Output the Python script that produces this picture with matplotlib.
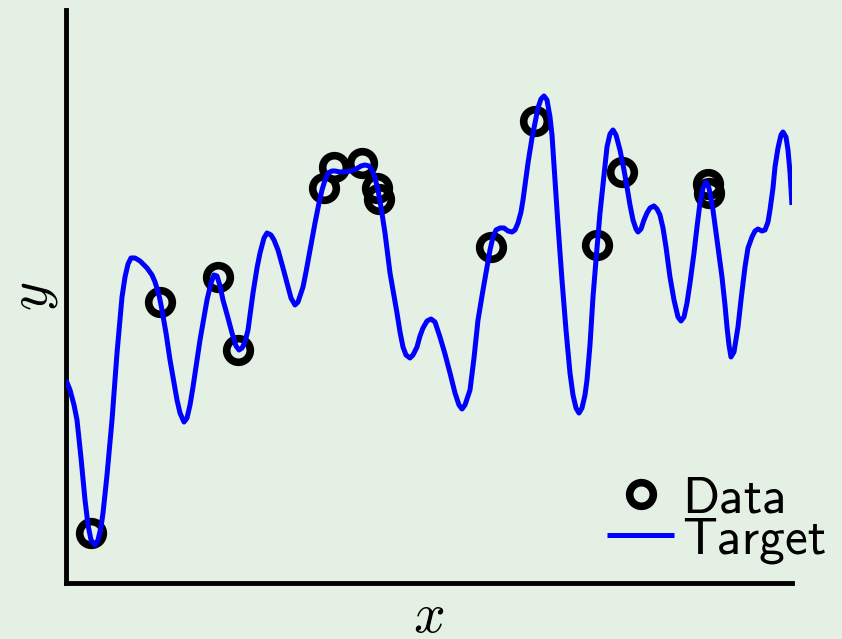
import matplotlib

matplotlib.use("Agg")
import matplotlib.pyplot as plt

plt.rcParams["mathtext.fontset"] = "cm"

# Target curve (x, y) samples
target_x = [
    0, 4, 8, 11, 15, 19, 22, 25, 29, 32, 35, 37, 41, 46, 51, 56, 59, 62, 65, 69,
    74, 81, 86, 89, 93, 96, 100, 104, 108, 111, 114, 118, 121, 124, 127, 134,
    141, 145, 148, 151, 154, 157, 162, 166, 170, 173, 176, 179, 182, 187, 191,
    194, 198, 201, 205, 208, 212, 217, 221, 225, 229, 232, 235, 237, 240, 244,
    249, 253, 256, 259, 262, 266, 269, 274, 279, 284, 290, 295, 299, 303, 306,
    309, 312, 315, 319, 324, 331, 334, 337, 340, 344, 347, 351, 354, 357, 361,
    365, 369, 374, 379, 384, 389, 393, 396, 399, 402, 404, 408, 412, 417, 421,
    424, 427, 430, 434, 438, 442, 446, 449, 452, 455, 457, 462, 466, 469, 472,
    475, 478, 481, 484, 486, 489, 492, 496, 500, 504, 507, 510, 513, 516, 519,
    521, 524, 527, 531, 534, 538, 541, 544, 547, 550, 554, 558, 561, 564, 567,
    570, 572, 575, 578, 581, 584, 588, 591, 594, 597, 600, 604, 608, 612, 615,
    618, 621, 624, 628, 631, 634, 637, 640, 643, 647, 651, 656, 659, 661, 663,
    665, 668, 672, 675, 679, 682, 686, 689, 692, 696, 699, 702, 704, 707, 709,
    712, 715, 717, 720, 722, 724, 726,
]
target_y = [
    203, 193, 178, 163, 125, 83, 58, 43, 38, 43, 56, 70, 108, 163, 230, 286,
    306, 319, 325, 325, 322, 315, 308, 301, 288, 273, 250, 223, 200, 183, 170,
    161, 165, 178, 196, 243, 283, 300, 308, 307, 297, 283, 265, 250, 237, 233,
    235, 241, 253, 290, 315, 330, 345, 350, 348, 343, 333, 315, 300, 285, 278,
    281, 290, 296, 311, 333, 360, 380, 393, 403, 410, 412, 412, 411, 411, 412,
    414, 417, 418, 417, 413, 405, 393, 376, 350, 310, 270, 251, 236, 228, 225,
    228, 236, 247, 255, 262, 264, 261, 246, 229, 210, 190, 178, 174, 178, 187,
    193, 225, 263, 293, 316, 333, 346, 353, 355, 355, 352, 351, 353, 360, 371,
    383, 420, 445, 460, 475, 484, 487, 483, 466, 448, 403, 358, 303, 253, 210,
    188, 175, 170, 175, 188, 203, 238, 286, 335, 370, 408, 436, 449, 453, 448,
    433, 413, 396, 378, 363, 354, 351, 354, 363, 370, 375, 377, 374, 368, 355,
    336, 306, 283, 266, 262, 266, 280, 300, 330, 356, 380, 395, 401, 395, 373,
    343, 306, 278, 256, 238, 226, 231, 256, 283, 316, 335, 346, 352, 354, 352,
    353, 361, 373, 395, 416, 435, 448, 451, 446, 433, 411, 378,
]

# Noisy observations
data_x = [25, 94, 152, 172, 258, 268, 296, 311, 313, 425, 469, 531, 556, 642, 643]
data_y = [50, 281, 306, 233, 395, 416, 420, 395, 384, 336, 462, 338, 411, 399, 390]

bg = "#e5f0e5"

fig = plt.figure(figsize=(8.42, 6.39), dpi=100, facecolor=bg)
ax = fig.add_axes([0.0784, 0.0876, 0.8622, 0.8968], facecolor=bg)

ax.plot(data_x, data_y, linestyle="none", marker="o", markersize=17,
        markerfacecolor="none", markeredgecolor="black",
        markeredgewidth=5.5, label="Data", zorder=2)
ax.plot(target_x, target_y, color="blue", linewidth=3.6,
        solid_joinstyle="round", solid_capstyle="butt",
        label="Target", zorder=3)

ax.set_xlim(0, 726)
ax.set_ylim(0, 573)
ax.set_xticks([])
ax.set_yticks([])
for side in ("top", "right"):
    ax.spines[side].set_visible(False)
for side in ("left", "bottom"):
    ax.spines[side].set_linewidth(3.5)
    ax.spines[side].set_color("black")

ax.set_xlabel("$x$", fontsize=40, labelpad=5)
ax.set_ylabel("$y$", fontsize=40, labelpad=4)

ax.legend(loc="lower right", bbox_to_anchor=(0.981, 0.118),
          bbox_transform=fig.transFigure, frameon=False,
          prop={"family": "cmss10", "size": 37},
          handlelength=1.3, handletextpad=0.15, labelspacing=-0.1,
          borderpad=0, borderaxespad=0)

fig.savefig("out.png", dpi=100, facecolor=bg)
